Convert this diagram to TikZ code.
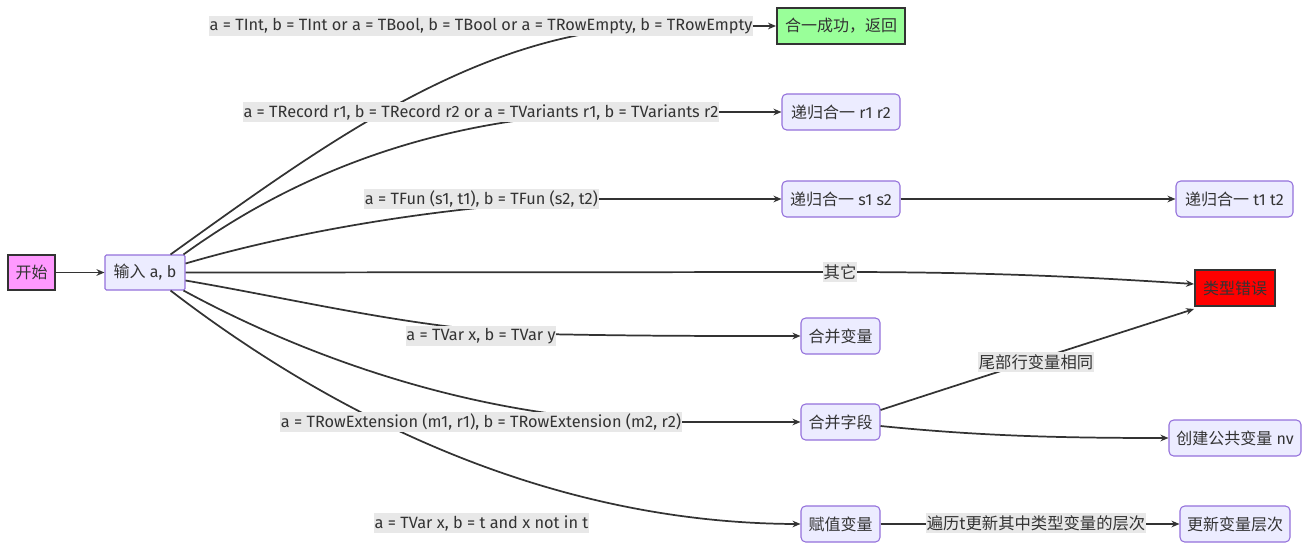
\documentclass[tikz,border=0pt]{standalone}
\usepackage{fontspec}
\setmainfont{Fira Sans}
\newfontfamily\cjk{Noto Sans CJK SC}
\usetikzlibrary{arrows.meta}
\definecolor{txt}{HTML}{333333}
\definecolor{pfill}{HTML}{ECECFF}
\definecolor{pdraw}{HTML}{9370DB}
\definecolor{lblbg}{HTML}{E8E8E8}
\definecolor{magentabox}{HTML}{FF99FF}
\definecolor{greenbox}{HTML}{99FF99}
\definecolor{redbox}{HTML}{FF0000}
\tikzset{
  proc/.style={draw=pdraw, fill=pfill, line width=0.8pt, rounded corners=3.5pt, inner sep=0pt, minimum height=27pt, text=txt, font=\fontsize{12}{14}\selectfont},
  special/.style={draw=txt, line width=1.5pt, inner sep=0pt, minimum height=27pt, text=txt, font=\fontsize{12}{14}\selectfont},
  lbl/.style={fill=lblbg, inner xsep=0.5pt, inner ysep=1.6pt, text=txt, font=\fontsize{12.25}{14}\selectfont},
  edge/.style={draw=txt, line width=1.3pt, -{Stealth[length=6pt,width=5pt]}},
}
\begin{document}
\begin{tikzpicture}[x=0.75pt,y=-0.75pt]
\useasboundingbox (0,0) rectangle (1309,550);
% nodes
\node[special, fill=magentabox, minimum width=35.25pt, minimum height=26.25pt] (start) at (31.5,272.5) {\cjk 开始};
\node[proc, minimum width=60pt, minimum height=26.25pt, rounded corners=1pt] (in) at (145,272.5) {{\cjk 输入} a, b};
\node[special, fill=greenbox, minimum width=96pt] (ok) at (841,26) {\cjk 合一成功，返回};
\node[proc, minimum width=88.5pt] (r12) at (841,112) {{\cjk 递归合一} r1 r2};
\node[proc, minimum width=88.5pt] (s12) at (841,199) {{\cjk 递归合一} s1 s2};
\node[proc, minimum width=87.75pt] (t12) at (1234.5,199) {{\cjk 递归合一} t1 t2};
\node[special, fill=redbox, minimum width=60pt] (err) at (1235,288) {\cjk 类型错误};
\node[proc, minimum width=59.25pt] (mv) at (840.5,336) {\cjk 合并变量};
\node[proc, minimum width=59.25pt] (mf) at (840.5,422) {\cjk 合并字段};
\node[proc, minimum width=99pt] (nv) at (1235,438) {{\cjk 创建公共变量} nv};
\node[proc, minimum width=59.25pt] (av) at (840.5,524) {\cjk 赋值变量};
\node[proc, minimum width=82.5pt] (up) at (1235,524) {\cjk 更新变量层次};
% label positions
\coordinate (l1) at (481,26);
\coordinate (l2) at (481,112);
\coordinate (l3) at (481.5,199);
\coordinate (l4) at (840,272);
\coordinate (l5) at (481,336);
\coordinate (l6) at (481,422);
\coordinate (l7) at (481.5,523);
\coordinate (l8) at (1036,362);
\coordinate (l9) at (1036,523);
% edges
\draw[edge] (start) -- (in);
\draw[edge] (in.north east) ++(-15,0) .. controls (330,140) and (480,30) .. (660,26) -- (ok.west);
\draw[edge] (in.north east) ++(-2,0) .. controls (300,170) and (450,112) .. (640,112) -- (r12.west);
\draw[edge] (in.east) ++(0,-9) .. controls (300,230) and (450,205) .. (600,199) .. controls (680,199) and (720,199) .. (s12.west);
\draw[edge] (in.east) -- (l4) .. controls (1000,272) and (1100,278) .. ([yshift=3pt]err.west);
\draw[edge] (in.east) ++(0,8) .. controls (300,300) and (420,330) .. (540,334) .. controls (640,336) and (700,336) .. (mv.west);
\draw[edge] (in.south east) ++(-2,0) .. controls (330,370) and (500,420) .. (660,422) -- (mf.west);
\draw[edge] (in.south east) ++(-15,0) .. controls (300,390) and (520,523) .. (av.west);
\draw[edge] (s12) -- (t12);
\draw[edge] (mf.east) ++(0,-12) .. controls (960,384) and (1110,336) .. ([yshift=-1.5pt]err.south west);
\draw[edge] (mf.east) ++(0,4) .. controls (980,436) and (1060,438) .. (nv.west);
\draw[edge] (av) -- (up);
% labels
\node[lbl] at (l1) {a = TInt, b = TInt or a = TBool, b = TBool or a = TRowEmpty, b = TRowEmpty};
\node[lbl] at (l2) {a = TRecord r1, b = TRecord r2 or a = TVariants r1, b = TVariants r2};
\node[lbl] at (l3) {a = TFun (s1, t1), b = TFun (s2, t2)};
\node[lbl] at (l4) {\cjk 其它};
\node[lbl] at (l5) {a = TVar x, b = TVar y};
\node[lbl] at (l6) {a = TRowExtension (m1, r1), b = TRowExtension (m2, r2)};
\node[lbl] at (l7) {a = TVar x, b = t and x not in t};
\node[lbl] at (l8) {\cjk 尾部行变量相同};
\node[lbl] at (l9) {\cjk 遍历t更新其中类型变量的层次};
\end{tikzpicture}
\end{document}
